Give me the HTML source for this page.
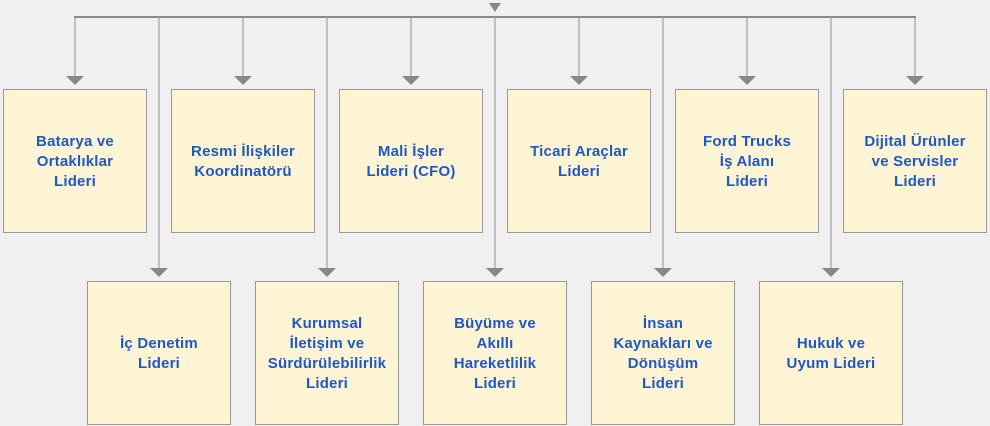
<!DOCTYPE html>
<html><head><meta charset="utf-8"><style>
body{margin:0;width:990px;height:426px;background:#f0f0f0;position:relative;overflow:hidden;font-family:"Liberation Sans",sans-serif}
.b{position:absolute;width:142px;height:140px;padding-top:2px;background:#fff5d5;border:1px solid #999;display:flex;align-items:center;justify-content:center;text-align:center;color:#1e58c4;font-weight:bold;font-size:15px;line-height:20px;letter-spacing:0.2px}
</style></head><body>
<svg width="990" height="426" style="position:absolute;left:0;top:0">
<g stroke="#c0c0c0" stroke-width="2">
<line x1="75" y1="17" x2="75" y2="78"/><line x1="243" y1="17" x2="243" y2="78"/><line x1="411" y1="17" x2="411" y2="78"/><line x1="579" y1="17" x2="579" y2="78"/><line x1="747" y1="17" x2="747" y2="78"/><line x1="915" y1="17" x2="915" y2="78"/>
<line x1="159" y1="17" x2="159" y2="270"/><line x1="327" y1="17" x2="327" y2="270"/><line x1="495" y1="17" x2="495" y2="270"/><line x1="663" y1="17" x2="663" y2="270"/><line x1="831" y1="17" x2="831" y2="270"/>
</g>
<line x1="74" y1="17" x2="916" y2="17" stroke="#8a8a8a" stroke-width="2"/>
<g fill="#888">
<polygon points="489,3 501,3 495,12"/>
<polygon points="66,76 84,76 75,85"/><polygon points="234,76 252,76 243,85"/><polygon points="402,76 420,76 411,85"/><polygon points="570,76 588,76 579,85"/><polygon points="738,76 756,76 747,85"/><polygon points="906,76 924,76 915,85"/>
<polygon points="150,268 168,268 159,277"/><polygon points="318,268 336,268 327,277"/><polygon points="486,268 504,268 495,277"/><polygon points="654,268 672,268 663,277"/><polygon points="822,268 840,268 831,277"/>
</g>
</svg>
<div class="b" style="left:3px;top:89px">Batarya ve<br>Ortaklıklar<br>Lideri</div>
<div class="b" style="left:171px;top:89px">Resmi İlişkiler<br>Koordinatörü</div>
<div class="b" style="left:339px;top:89px">Mali İşler<br>Lideri (CFO)</div>
<div class="b" style="left:507px;top:89px">Ticari Araçlar<br>Lideri</div>
<div class="b" style="left:675px;top:89px">Ford Trucks<br>İş Alanı<br>Lideri</div>
<div class="b" style="left:843px;top:89px">Dijital Ürünler<br>ve Servisler<br>Lideri</div>
<div class="b" style="left:87px;top:281px">İç Denetim<br>Lideri</div>
<div class="b" style="left:255px;top:281px">Kurumsal<br>İletişim ve<br>Sürdürülebilirlik<br>Lideri</div>
<div class="b" style="left:423px;top:281px">Büyüme ve<br>Akıllı<br>Hareketlilik<br>Lideri</div>
<div class="b" style="left:591px;top:281px">İnsan<br>Kaynakları ve<br>Dönüşüm<br>Lideri</div>
<div class="b" style="left:759px;top:281px">Hukuk ve<br>Uyum Lideri</div>
</body></html>
